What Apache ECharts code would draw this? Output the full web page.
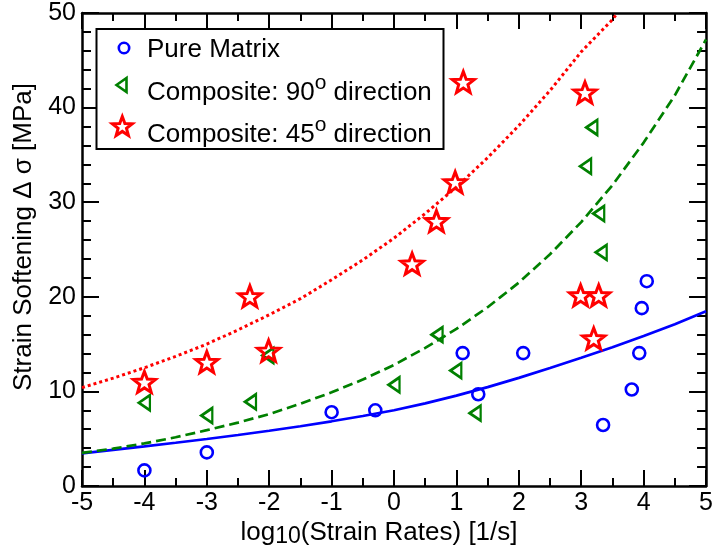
<!DOCTYPE html>
<html><head><meta charset="utf-8">
<script src="https://cdn.jsdelivr.net/npm/echarts@6/dist/echarts.min.js"></script>
<style>html,body{margin:0;padding:0;background:#fff}#c{width:716px;height:558px}</style>
</head><body><div id="c"></div>
<script>
// ---- data ----
const pureX  = [-4, -3, -1, -0.3, 1.1, 1.35, 2.07, 3.35, 3.81, 3.93, 3.97, 4.05];
const pureY  = [1.65, 3.55, 7.8, 8.0, 14.05, 9.7, 14.05, 6.45, 10.2, 14.05, 18.8, 21.65];
const comp90X = [-4, -3, -2.3, -2.02, 0, 0.69, 0.99, 1.3, 3.07, 3.17, 3.28, 3.32];
const comp90Y = [8.8, 7.45, 8.9, 13.8, 10.7, 16.0, 12.2, 7.7, 33.8, 37.9, 28.8, 24.7];
const comp45X = [-4, -3, -2.31, -2.01, 0.29, 0.68, 0.98, 1.11, 3.06, 2.99, 3.28, 3.2];
const comp45Y = [11.0, 13.1, 20.05, 14.3, 23.5, 28.0, 32.1, 42.7, 41.6, 20.15, 20.15, 15.6];

// fitted curves
const curveX = [-5, -4.5, -4, -3.5, -3, -2.5, -2, -1.5, -1, -0.5, 0, 0.5, 1, 1.5, 2, 2.5, 3, 3.5, 4, 4.5, 5];
const pureFit = [3.45, 3.82, 4.19, 4.57, 4.97, 5.39, 5.84, 6.32, 6.84, 7.40, 8.01, 8.73, 9.55, 10.45, 11.43, 12.47, 13.55, 14.67, 15.85, 17.11, 18.47];
const comp90Fit = [3.5, 3.95, 4.5, 5.15, 5.9, 6.7, 7.6, 8.7, 9.9, 11.25, 12.8, 14.6, 16.6, 18.9, 21.5, 24.5, 27.9, 31.8, 36.3, 41.3, 47.2];
const comp45FitX = [-5, -4.5, -4, -3.5, -3, -2.5, -2, -1.5, -1, -0.5, 0, 0.5, 1, 1.5, 2, 2.5, 3, 3.5, 3.58];
const comp45Fit = [10.4, 11.4, 12.5, 13.7, 15.0, 16.5, 18.1, 19.8, 21.8, 23.9, 26.2, 28.8, 31.6, 34.7, 38.1, 41.8, 45.9, 49.3, 50];

const xTicks = [-5, 5, 1];   // min, max, interval
const yTicks = [0, 50, 10];

const legendNames = ['Pure Matrix', 'Composite: 90{sup|o} direction', 'Composite: 45{sup|o} direction'];
const xTitle = '{m|log}{sub|10}{m|(Strain Rates) [1/s]}';
const yTitle = 'Strain Softening \u0394 \u03c3 [MPa]';

// ---- drawing ----
const FONT = "'Liberation Sans', Arial, Helvetica, sans-serif";
const BLUE = '#0000ff', GREEN = '#008000', RED = '#ff0000';

function starPts(cx, cy, R, r) {
  const p = [];
  for (let k = 0; k < 10; k++) {
    const a = -Math.PI / 2 + k * Math.PI / 5;
    const rad = k % 2 === 0 ? R : r;
    p.push([cx + rad * Math.cos(a), cy + rad * Math.sin(a)]);
  }
  return p;
}
const sp = starPts(50, 50, 50, 21);
const STAR = 'path://M' + sp.map(q => q[0].toFixed(2) + ',' + q[1].toFixed(2)).join(' L') + ' Z';

function xAx(pos, showLabel) {
  return {
    type: 'value', position: pos, min: xTicks[0], max: xTicks[1], interval: xTicks[2],
    axisLine: { onZero: false, lineStyle: { color: '#000', width: 2.5 } },
    axisTick: { inside: true, length: 16, lineStyle: { color: '#000', width: 2 } },
    minorTick: { show: true, splitNumber: 2, length: 8, lineStyle: { color: '#000', width: 2 } },
    splitLine: { show: false }, minorSplitLine: { show: false },
    axisLabel: { show: showLabel, color: '#000', fontSize: 25, fontFamily: FONT, margin: 5 }
  };
}
function yAx(pos, showLabel) {
  return {
    type: 'value', position: pos, min: yTicks[0], max: yTicks[1], interval: yTicks[2],
    axisLine: { onZero: false, lineStyle: { color: '#000', width: 2.5 } },
    axisTick: { inside: true, length: 17, lineStyle: { color: '#000', width: 2 } },
    minorTick: { show: true, splitNumber: 5, length: 9, lineStyle: { color: '#000', width: 2 } },
    splitLine: { show: false }, minorSplitLine: { show: false },
    axisLabel: { show: showLabel, color: '#000', fontSize: 25, fontFamily: FONT, margin: 6 }
  };
}

const zip = (xs, ys) => xs.map((x, i) => [x, ys[i]]);
const hollow = (c, w) => ({ color: 'rgba(255,255,255,0)', borderColor: c, borderWidth: w, opacity: 1 });

const legendText = (t, y) => ({
  type: 'text', x: 147, y: y, z: 100,
  style: {
    text: t.replace(/^([^{]*)/, '{m|$1}').replace(/\}([^{]+)$/, '}{m|$1}'),
    fill: '#000', font: '26px ' + FONT, textAlign: 'left', textVerticalAlign: 'middle',
    rich: { m: { font: '26px ' + FONT, lineHeight: 30, verticalAlign: 'bottom' },
            sup: { font: '21px ' + FONT, verticalAlign: 'bottom', padding: [0, 0, 12, 0] } }
  }
});

const chart = echarts.init(document.getElementById('c'), null, { renderer: 'canvas' });
chart.setOption({
  animation: false,
  backgroundColor: '#fff',
  grid: { left: 82, right: 2.5, top: 13, bottom: 72 },
  xAxis: [xAx('bottom', true), xAx('top', false)],
  yAxis: [yAx('left', true), yAx('right', false)],
  series: [
    { type: 'line', data: zip(curveX, pureFit), showSymbol: false, smooth: false,
      lineStyle: { color: BLUE, width: 2.7 }, z: 2, silent: true },
    { type: 'line', data: zip(curveX, comp90Fit), showSymbol: false, smooth: false,
      lineStyle: { color: GREEN, width: 2.7, type: [10, 5] }, z: 2, silent: true },
    { type: 'line', data: zip(comp45FitX, comp45Fit), showSymbol: false, smooth: false,
      lineStyle: { color: RED, width: 3, type: [3, 3] }, z: 2, silent: true },
    { type: 'scatter', name: 'Pure Matrix', data: zip(pureX, pureY), symbol: 'circle', symbolSize: 12,
      itemStyle: hollow(BLUE, 2.6), z: 3, silent: true },
    { type: 'scatter', name: 'Composite 90', data: zip(comp90X, comp90Y), symbol: 'triangle', symbolSize: [15, 11],
      symbolRotate: 90, itemStyle: hollow(GREEN, 2.6), z: 3, silent: true },
    { type: 'scatter', name: 'Composite 45', data: zip(comp45X, comp45Y), symbol: STAR, symbolKeepAspect: true,
      symbolSize: 22, itemStyle: hollow(RED, 3), z: 3, silent: true }
  ],
  graphic: [
    { type: 'rect', z: 99, shape: { x: 96.5, y: 29, width: 347, height: 120 },
      style: { fill: '#fff', stroke: '#000', lineWidth: 2 } },
    { type: 'circle', z: 100, shape: { cx: 124, cy: 48, r: 5.2 },
      style: { fill: 'none', stroke: BLUE, lineWidth: 2.6 } },
    { type: 'polygon', z: 100, shape: { points: [[116.5, 85], [126.5, 78], [126.5, 92]] },
      style: { fill: 'none', stroke: GREEN, lineWidth: 2.6 } },
    { type: 'polygon', z: 100, shape: { points: starPts(122.3, 127, 10.5, 4.4) },
      style: { fill: 'none', stroke: RED, lineWidth: 3 } },
    legendText(legendNames[0], 47.5),
    legendText(legendNames[1], 89),
    legendText(legendNames[2], 131),
    { type: 'text', x: 379, y: 533.8, z: 100,
      style: { text: xTitle, fill: '#000', font: '26px ' + FONT, textAlign: 'center', textVerticalAlign: 'middle',
        rich: { m: { font: '26px ' + FONT, verticalAlign: 'top' },
                sub: { font: '23px ' + FONT, verticalAlign: 'top', padding: [5, 0, 0, 0] } } } },
    { type: 'text', x: 24, y: 237, rotation: Math.PI / 2, z: 100,
      style: { text: yTitle, fill: '#000', font: '26px ' + FONT, textAlign: 'center', textVerticalAlign: 'middle' } }
  ]
});
</script>
</body></html>
